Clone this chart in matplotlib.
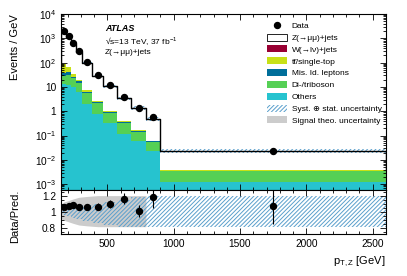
import numpy as np
import matplotlib
matplotlib.use('Agg')
import matplotlib.pyplot as plt
from matplotlib.ticker import MultipleLocator, LogLocator, FuncFormatter, NullFormatter, FixedLocator
from matplotlib.patches import Patch
from matplotlib.lines import Line2D

plt.rcParams['font.family'] = ['Liberation Sans', 'DejaVu Sans']
plt.rcParams['mathtext.fontset'] = 'custom'
plt.rcParams['mathtext.rm'] = 'Liberation Sans'
plt.rcParams['mathtext.it'] = 'Liberation Sans:italic'
plt.rcParams['hatch.linewidth'] = 0.7

# ---------------- data ----------------
bin_edges = [150, 188, 225, 262, 310, 385, 470, 570, 680, 790, 900, 2600]

data = [2056, 1208, 641, 300, 103, 31, 12, 4.0, 1.4, 0.56, 0.024]
data_err = [20, 14, 10, 6, 3, 1.2, 0.55, 0.23, 0.1, 0.062, 0.0048]

z_jets = [1853, 1057, 557, 263, 89.4, 26.4, 9.87, 3.05, 1.22, 0.414, 0.0187]
w_jets = [1.0, 1.0, 0.3, 0.1, 0.05, 0.02, 0.01, 0.003, 0.001, 0.0003, 0.00001]
top = [55, 25, 7, 2, 0.9, 0.28, 0.09, 0.03, 0.012, 0.003, 0.00015]
misid = [7, 8, 4, 2, 0.6, 0.25, 0.08, 0.03, 0.012, 0.003, 0.0001]
diboson = [16, 20, 13, 9, 3.9, 1.4, 0.52, 0.22, 0.085, 0.031, 0.0022]
others = [13, 12, 9.9, 6.2, 1.98, 0.77, 0.33, 0.115, 0.059, 0.024, 0.0012]

# syst (+) stat relative uncertainty, per bin
unc_up = [0.03, 0.04, 0.05, 0.06, 0.08, 0.10, 0.12, 0.15, 0.18, 0.20, 0.20]
unc_dn = [0.035, 0.05, 0.07, 0.09, 0.11, 0.14, 0.16, 0.18, 0.18, 0.18, 0.18]

# signal theory band (ratio panel), bins up to 790 GeV
theo_x = [150, 169, 206, 243, 286, 348, 428, 520, 625, 735, 790]
theo_up = [1.10, 1.12, 1.14, 1.16, 1.18, 1.19, 1.20, 1.20, 1.20, 1.20, 1.20]
theo_dn = [0.92, 0.90, 0.88, 0.86, 0.84, 0.83, 0.82, 0.82, 0.82, 0.82, 0.82]

# ---------------- styles ----------------
C_OTHERS = '#26c3cf'
C_DIBOSON = '#55d055'
C_MISID = '#006e9a'
C_TOP = '#c8e116'
C_W = '#990033'
C_HATCH = '#5a9fcc'
C_THEO = '#cccccc'
HATCH = '////////'


def stepy(v):
    v = np.asarray(v, dtype=float)
    return np.append(v, v[-1])


edges = np.array(bin_edges, dtype=float)
centers = 0.5 * (edges[1:] + edges[:-1])

fig = plt.figure(figsize=(4.07, 2.76), dpi=100)
ax = fig.add_axes([0.150, 0.312, 0.798, 0.637])
rax = fig.add_axes([0.150, 0.152, 0.798, 0.160])

# stacked backgrounds
layers = [others, diboson, misid, top, w_jets]
colors = [C_OTHERS, C_DIBOSON, C_MISID, C_TOP, C_W]
base = np.full(len(data), 1e-6)
for vals, col in zip(layers, colors):
    new = base + np.array(vals)
    ax.fill_between(edges, stepy(base), stepy(new), step='post', color=col, lw=0)
    base = new

total = base + np.array(z_jets)
ax.step(edges, stepy(total), where='post', color='black', lw=1.0)
ax.plot([edges[0], edges[0]], [base[0], total[0]], color='black', lw=1.0)
ax.plot([edges[-1], edges[-1]], [base[-1], total[-1]], color='black', lw=1.0)

ax.fill_between(edges, stepy(total * (1 - np.array(unc_dn))), stepy(total * (1 + np.array(unc_up))),
                step='post', facecolor='none', edgecolor=C_HATCH, hatch=HATCH, lw=0)

ax.errorbar(centers, data, yerr=data_err, fmt='o', color='black', markersize=4.3, elinewidth=0.8,
            capsize=0, zorder=5)

ax.set_yscale('log')
ax.set_xlim(150, 2600)
ax.set_ylim(5.8e-4, 1e4)


def log_fmt(v, pos):
    e = int(round(np.log10(v)))
    if e == 0:
        return '1'
    if e == 1:
        return '10'
    return r'$10^{%d}$' % e


ax.yaxis.set_major_locator(LogLocator(base=10, numticks=20))
ax.yaxis.set_major_formatter(FuncFormatter(log_fmt))
ax.yaxis.set_minor_locator(LogLocator(base=10, subs=np.arange(2, 10), numticks=20))
ax.yaxis.set_minor_formatter(NullFormatter())
ax.xaxis.set_major_locator(MultipleLocator(500))
ax.xaxis.set_minor_locator(MultipleLocator(100))
ax.tick_params(labelbottom=False)
ax.set_ylabel('Events / GeV', loc='top', fontsize=8)

ax.text(0.135, 0.92, 'ATLAS', transform=ax.transAxes, fontsize=6.5, fontweight='bold', style='italic', va='center')
ax.text(0.135, 0.845, '√s=13 TeV, 37 fb$^{-1}$', transform=ax.transAxes, fontsize=6, va='center')
ax.text(0.135, 0.78, 'Z(→μμ)+jets', transform=ax.transAxes, fontsize=6, va='center')

handles = [
    Line2D([], [], marker='o', color='black', linestyle='none', markersize=4.3),
    Patch(facecolor='white', edgecolor='black', lw=0.6),
    Patch(facecolor=C_W, lw=0),
    Patch(facecolor=C_TOP, lw=0),
    Patch(facecolor=C_MISID, lw=0),
    Patch(facecolor=C_DIBOSON, lw=0),
    Patch(facecolor=C_OTHERS, lw=0),
    Patch(facecolor='white', edgecolor=C_HATCH, hatch=HATCH, lw=0),
    Patch(facecolor=C_THEO, lw=0),
]
labels = ['Data', 'Z(→μμ)+jets', 'W(→lν)+jets', 'tt\u0304/single-top', 'Mis. Id. leptons',
          'Di-/triboson', 'Others', 'Syst. ⊕ stat. uncertainty', 'Signal theo. uncertainty']
ax.legend(handles, labels, loc='upper left', bbox_to_anchor=(0.625, 0.975), frameon=False, fontsize=6,
          handlelength=2.3, handleheight=0.9, labelspacing=0.42, handletextpad=0.6, borderaxespad=0)

# ratio panel
ratio = np.array(data) / total
ratio_err = np.array(data_err) / total

rax.fill_between(theo_x, theo_dn, theo_up, color=C_THEO, lw=0)
rax.fill_between(edges, stepy(1 - np.array(unc_dn)), stepy(1 + np.array(unc_up)), step='post',
                 facecolor='none', edgecolor=C_HATCH, hatch=HATCH, lw=0)
rax.errorbar(centers, ratio, yerr=ratio_err, fmt='o', color='black', markersize=4.3, elinewidth=0.8,
             capsize=0, zorder=5)
rax.set_xlim(150, 2600)
rax.set_ylim(0.73, 1.27)
rax.yaxis.set_major_locator(FixedLocator([0.8, 1.0, 1.2]))
rax.yaxis.set_major_formatter(FuncFormatter(lambda v, p: '%g' % v))
rax.yaxis.set_minor_locator(MultipleLocator(0.05))
rax.xaxis.set_major_locator(MultipleLocator(500))
rax.xaxis.set_minor_locator(MultipleLocator(100))
rax.set_ylabel('Data/Pred.', loc='top', fontsize=8)
rax.set_xlabel(r'p$_{\mathrm{T,Z}}$ [GeV]', loc='right', fontsize=8)

for a in (ax, rax):
    a.tick_params(which='both', direction='in', top=True, right=True, labelsize=7.3, width=0.6)
    a.tick_params(which='major', length=4.5)
    a.tick_params(which='minor', length=2.3)
    for s in a.spines.values():
        s.set_linewidth(0.8)

ax.yaxis.set_label_coords(-0.125, 1.0)
rax.yaxis.set_label_coords(-0.125, 1.0)

fig.savefig('out.png', dpi=100)
